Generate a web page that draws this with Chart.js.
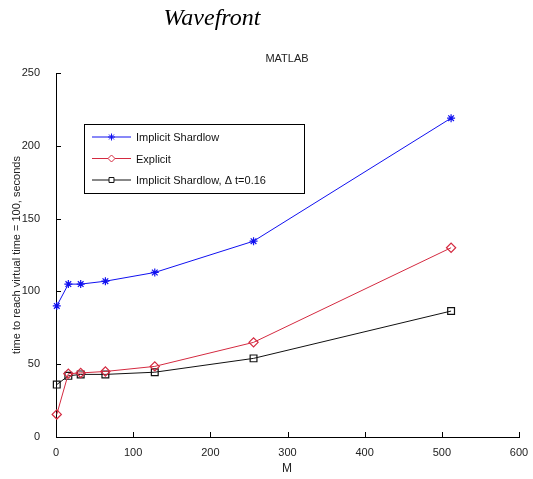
<!DOCTYPE html>
<html><head><meta charset="utf-8">
<script src="https://cdn.jsdelivr.net/npm/chart.js@4.4.0/dist/chart.umd.min.js"></script>
<style>html,body{margin:0;padding:0;background:#fff;}#wrap{width:533px;height:479px;}</style>
</head><body><div id="wrap"><canvas id="c" width="533" height="479"></canvas></div>
<script>
const M = [1, 16, 32, 64, 128, 256, 512];
const implicitShardlow = [90, 105, 105, 107, 113, 134.5, 219];
const explicitVals = [15.5, 43.5, 44, 45, 48.5, 65, 130];
const implicitDt = [36, 42, 43, 43, 44.5, 54, 86.5];
const xTicks = [0, 100, 200, 300, 400, 500, 600];
const yTicks = [0, 50, 100, 150, 200, 250];
const seriesNames = ['Implicit Shardlow', 'Explicit', 'Implicit Shardlow, \u0394 t=0.16'];

const BLUE = '#1010f0', RED = '#d42a40', BLACK = '#111';
function pts(ys){ return M.map((m,i)=>({x:m,y:ys[i]})); }

const extras = {
  id:'extras',
  afterDraw(chart){
    const ctx = chart.ctx, xs = chart.scales.x, ys = chart.scales.y, ca = chart.chartArea;
    ctx.save();
    ctx.strokeStyle = '#000'; ctx.lineWidth = 1;
    xTicks.forEach(v=>{ const px = Math.round(xs.getPixelForValue(v))+0.5; ctx.beginPath(); ctx.moveTo(px, ca.bottom); ctx.lineTo(px, ca.bottom-5); ctx.stroke(); });
    yTicks.forEach(v=>{ const py = Math.round(ys.getPixelForValue(v))+0.5; ctx.beginPath(); ctx.moveTo(ca.left, py); ctx.lineTo(ca.left+5, py); ctx.stroke(); });
    ctx.fillStyle = '#000';
    ctx.font = 'italic 24px "Liberation Serif", "DejaVu Serif", serif';
    ctx.textAlign = 'center'; ctx.textBaseline = 'middle';
    ctx.fillText('Wavefront', 212, 19);
    ctx.fillStyle = '#222';
    ctx.font = '11px "Liberation Sans", Arial, sans-serif';
    ctx.fillText('MATLAB', 287, 59);
    ctx.font = '12px "Liberation Sans", Arial, sans-serif';
    ctx.fillText('M', 287, 469);
    ctx.save();
    ctx.translate(17, 255); ctx.rotate(-Math.PI/2);
    ctx.font = '11px "Liberation Sans", Arial, sans-serif';
    ctx.fillText('time to reach virtual time = 100, seconds', 0, 0);
    ctx.restore();
    const lx = 84, ly = 124, lw = 220, lh = 69;
    ctx.fillStyle = '#fff'; ctx.fillRect(lx, ly, lw, lh);
    ctx.strokeStyle = '#000'; ctx.strokeRect(lx+0.5, ly+0.5, lw, lh);
    const cols = [BLUE, RED, BLACK];
    const styles = ['star','rectRot','rect'];
    ctx.font = '11px "Liberation Sans", Arial, sans-serif';
    ctx.textAlign = 'left';
    for (let i=0;i<3;i++){
      const yy = ly + 13 + i*21.5;
      ctx.strokeStyle = cols[i]; ctx.lineWidth = 1;
      ctx.beginPath(); ctx.moveTo(lx+8, yy); ctx.lineTo(lx+47, yy); ctx.stroke();
      ctx.fillStyle = '#fff';
      Chart.helpers.drawPoint(ctx, {pointStyle: styles[i], radius: 3.5, borderWidth: 1, rotation: 0}, lx+27.5, yy);
      ctx.fillStyle = '#111';
      ctx.fillText(seriesNames[i], lx+52, yy+1);
    }
    ctx.restore();
  }
};

const mk = (label, data, color, style, r) => ({
  label, data: pts(data), borderColor: color, backgroundColor: 'rgba(0,0,0,0)',
  borderWidth: 1, pointStyle: style, pointRadius: r, pointBorderWidth: 1.2,
  pointBorderColor: color, pointBackgroundColor: 'rgba(0,0,0,0)', tension: 0, clip: false
});

new Chart(document.getElementById('c'), {
  type: 'line',
  data: { datasets: [
    mk(seriesNames[0], implicitShardlow, BLUE, 'star', 4),
    mk(seriesNames[1], explicitVals, RED, 'rectRot', 4.6),
    mk(seriesNames[2], implicitDt, BLACK, 'rect', 4.8)
  ]},
  options: {
    responsive: false, animation: false, devicePixelRatio: 1,
    layout: { padding: { top: 73, right: 14, left: 0, bottom: 0 } },
    plugins: { legend: {display:false}, title:{display:false}, tooltip:{enabled:false} },
    scales: {
      x: { type:'linear', min:0, max:600,
           afterFit(s){ s.height = 42; },
           afterBuildTicks(s){ s.ticks = xTicks.map(v=>({value:v})); },
           grid:{display:false}, border:{display:true, color:'#000', width:1},
           ticks:{ padding:1, color:'#222', font:{size:11, family:'"Liberation Sans", Arial, sans-serif'}, maxRotation:0 } },
      y: { type:'linear', min:0, max:250,
           afterFit(s){ s.width = 56; },
           afterBuildTicks(s){ s.ticks = yTicks.map(v=>({value:v})); },
           grid:{display:false}, border:{display:true, color:'#000', width:1},
           ticks:{ padding:8, color:'#222', font:{size:11, family:'"Liberation Sans", Arial, sans-serif'} } }
    }
  },
  plugins: [extras]
});
</script></body></html>
